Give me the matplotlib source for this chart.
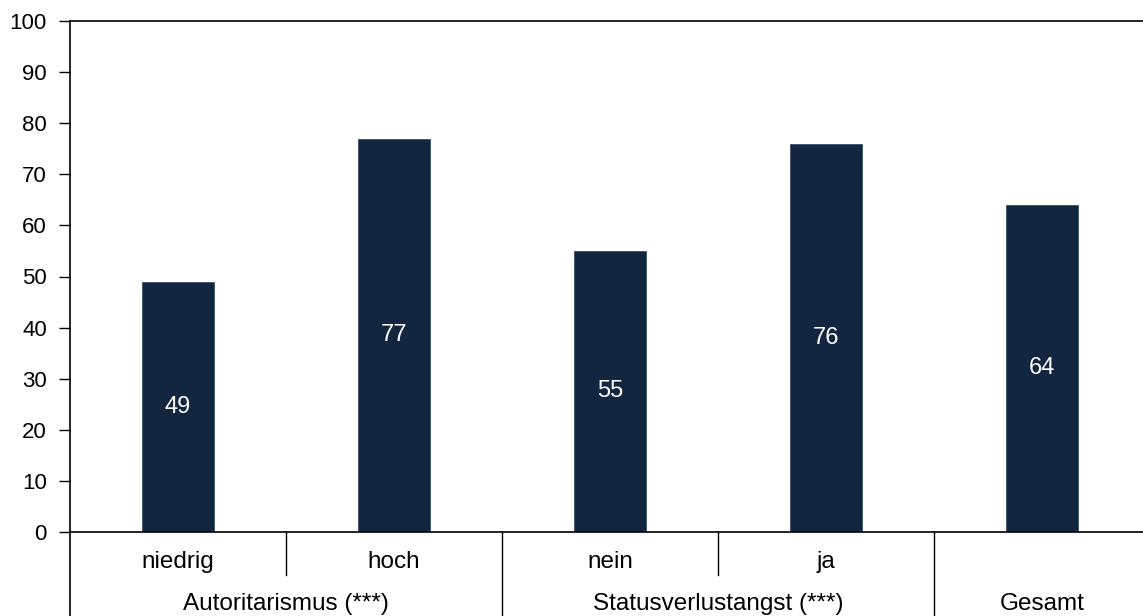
import matplotlib.pyplot as plt

plt.rcParams['font.family'] = ['Liberation Sans', 'DejaVu Sans']

categories = ['niedrig', 'hoch', 'nein', 'ja', '']
values = [49, 77, 55, 76, 64]
groups = ['Autoritarismus (***)', 'Statusverlustangst (***)', 'Gesamt']
group_spans = [(0, 2), (2, 4), (4, 5)]
bar_colour = '#12263f'
tick_fs = 16
label_fs = 17.5
value_fs = 17

W, H = 1143, 616
fig = plt.figure(figsize=(W / 100, H / 100), dpi=100)
ax = fig.add_axes([70 / W, (H - 532) / H, 1080 / W, 511 / H])

xs = [i + 0.5 for i in range(len(values))]
ax.bar(xs, values, width=0.33, color=bar_colour, edgecolor='#3a4d66', linewidth=0.6)
for x, v in zip(xs, values):
    ax.text(x, v / 2, str(v), ha='center', va='center', color='white', fontsize=value_fs)

ax.set_xlim(0, 5)
ax.set_ylim(0, 100)
ax.set_yticks(range(0, 101, 10))
ax.tick_params(axis='y', direction='out', length=8, width=1, labelsize=tick_fs, pad=8.6)
ax.set_xticks([])
ax.spines['right'].set_visible(False)
for side in ['left', 'top', 'bottom']:
    ax.spines[side].set_linewidth(1.2)

tr = ax.get_xaxis_transform()
bottom = -84 / 511
short = -43 / 511
# left spine continues down
ax.plot([0, 0], [0, bottom], transform=tr, color='black', lw=1.2, clip_on=False)
for start, end in group_spans:
    for k in range(start + 1, end):
        ax.plot([k, k], [0, short], transform=tr, color='black', lw=1, clip_on=False)
    if start > 0:
        ax.plot([start, start], [0, bottom], transform=tr, color='black', lw=1, clip_on=False)

for x, c in zip(xs, categories):
    ax.text(x, -30 / 511, c, transform=tr, ha='center', va='center', fontsize=label_fs)
for (start, end), g in zip(group_spans, groups):
    ax.text((start + end) / 2, -72 / 511, g, transform=tr, ha='center', va='center', fontsize=label_fs)

fig.savefig('out.png', dpi=100)
